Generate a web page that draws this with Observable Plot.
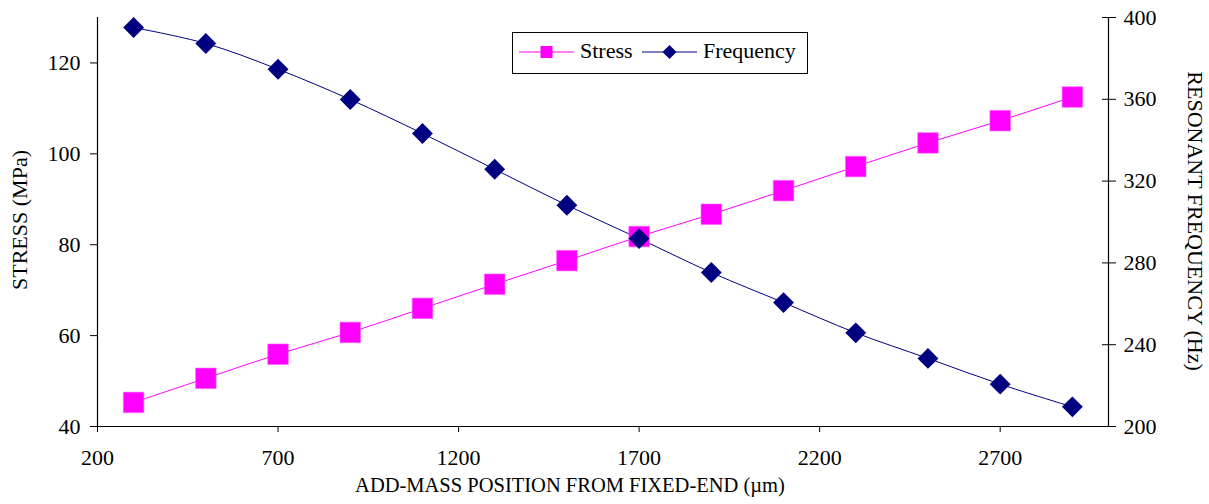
<!DOCTYPE html>
<html>
<head>
<meta charset="utf-8">
<script src="https://cdn.jsdelivr.net/npm/d3@7"></script>
<script src="https://cdn.jsdelivr.net/npm/@observablehq/plot@0.6"></script>
</head>
<body style="margin:0;background:#fff">
<div id="wrap" style="position:relative;width:1209px;height:504px;font-family:Liberation Serif">
  <div id="chart"></div>
</div>
<script>
// Data
const positions = [300, 500, 700, 900, 1100, 1300, 1500, 1700, 1900, 2100, 2300, 2500, 2700, 2900];
const stress = [45.3, 50.6, 55.9, 60.7, 66.0, 71.3, 76.5, 81.8, 86.7, 91.9, 97.2, 102.4, 107.3, 112.5];
const frequency = [395.1, 387.3, 374.7, 359.9, 343.3, 325.8, 308.2, 291.9, 275.3, 260.6, 245.8, 233.3, 220.7, 209.6];
const xTicks = [200, 700, 1200, 1700, 2200, 2700];
const leftTicks = [40, 60, 80, 100, 120];
const rightTicks = [200, 240, 280, 320, 360, 400];
const leftDomain = [40, 130];
const rightDomain = [200, 400];
const xDomain = [200, 3000];
const seriesNames = ["Stress", "Frequency"];
const colors = { Stress: "#FF00FF", Frequency: "#000080" };

// map frequency onto the stress scale
const toLeft = f => leftDomain[0] + (f - rightDomain[0]) * (leftDomain[1] - leftDomain[0]) / (rightDomain[1] - rightDomain[0]);
const toRight = v => rightDomain[0] + (v - leftDomain[0]) * (rightDomain[1] - rightDomain[0]) / (leftDomain[1] - leftDomain[0]);

const stressData = positions.map((p, i) => ({ x: p, y: stress[i] }));
const freqData = positions.map((p, i) => ({ x: p, y: toLeft(frequency[i]) }));

const font = "Liberation Serif";
const chart = Plot.plot({
  width: 1209,
  height: 504,
  marginLeft: 97,
  marginRight: 101,
  marginTop: 17,
  marginBottom: 78,
  style: { fontFamily: font, fontSize: "22px", color: "#000", background: "#fff" },
  x: { domain: xDomain },
  y: { domain: leftDomain },
  marks: [
    Plot.axisX({ ticks: xTicks, tickFormat: d => String(d), tickSize: 6, tickPadding: 17, fontSize: 22, fontFamily: font, label: null }),
    Plot.axisY({ ticks: leftTicks, tickFormat: d => String(d), tickSize: 7, tickPadding: 10, fontSize: 22, fontFamily: font, label: null }),
    Plot.axisY({ anchor: "right", ticks: rightTicks.map(toLeft), tickFormat: v => String(Math.round(toRight(v))), tickSize: 7, tickPadding: 8, fontSize: 22, fontFamily: font, label: null }),
    Plot.axisY({ anchor: "right", ticks: rightTicks.map(toLeft), tickFormat: () => "", tickSize: -7, label: null }),
    Plot.ruleX([xDomain[0]], { stroke: "#000", strokeWidth: 1.2 }),
    Plot.ruleX([xDomain[1]], { stroke: "#000", strokeWidth: 1.2 }),
    Plot.ruleY([leftDomain[0]], { stroke: "#000", strokeWidth: 1.2 }),
    Plot.line(stressData, { x: "x", y: "y", stroke: colors.Stress, strokeWidth: 1, curve: "catmull-rom" }),
    Plot.line(freqData, { x: "x", y: "y", stroke: colors.Frequency, strokeWidth: 1, curve: "catmull-rom" }),
    Plot.dot(stressData, { x: "x", y: "y", symbol: "square", r: 11.6, fill: colors.Stress, stroke: "#ff66ff", strokeWidth: 0.6 }),
    Plot.dot(freqData, { x: "x", y: "y", symbol: "diamond2", r: 9.4, fill: colors.Frequency })
  ]
});
document.getElementById("chart").appendChild(chart);

// Axis titles and legend as real SVG text
const svg = d3.select(chart);
function addText(sel, txt, size) {
  return sel.append("text").attr("font-family", font).attr("font-size", size).attr("fill", "#000").text(txt);
}
addText(svg, "ADD-MASS POSITION FROM FIXED-END (\u00B5m)", 20.5).attr("x", 570).attr("y", 492).attr("text-anchor", "middle");
addText(svg, "STRESS (MPa)", 22).attr("transform", "translate(27,220) rotate(-90)").attr("text-anchor", "middle");
addText(svg, "RESONANT FREQUENCY (Hz)", 22).attr("transform", "translate(1188,221) rotate(90)").attr("text-anchor", "middle");

// Legend box inside the plot
const lg = svg.append("g").attr("transform", "translate(512,32)");
lg.append("rect").attr("x", 0.5).attr("y", 0.5).attr("width", 295).attr("height", 41).attr("fill", "#fff").attr("stroke", "#000").attr("stroke-width", 1);
const items = [
  { name: seriesNames[0], x0: 7, tx: 68, sym: "square" },
  { name: seriesNames[1], x0: 130, tx: 191, sym: "diamond" }
];
items.forEach(it => {
  const c = colors[it.name];
  lg.append("line").attr("x1", it.x0).attr("x2", it.x0 + 55).attr("y1", 20).attr("y2", 20).attr("stroke", c).attr("stroke-width", 1);
  if (it.sym === "square") {
    lg.append("rect").attr("x", it.x0 + 27.5 - 6).attr("y", 14).attr("width", 12).attr("height", 12).attr("fill", c);
  } else {
    lg.append("path").attr("transform", `translate(${it.x0 + 27.5},20)`).attr("d", "M0,-7L7,0L0,7L-7,0Z").attr("fill", c);
  }
  addText(lg, it.name, 22).attr("x", it.tx).attr("y", 26).attr("text-anchor", "start");
});
</script>
</body>
</html>
